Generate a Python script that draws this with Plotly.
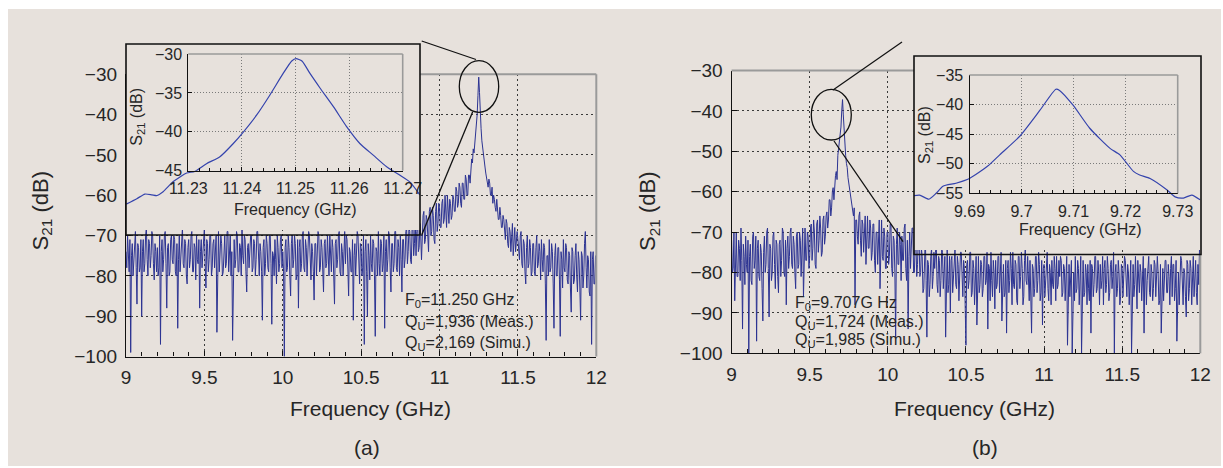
import numpy as np
import plotly.graph_objects as go

W, H = 1223, 468

# ---------------- data ----------------
freq_main = np.round(np.linspace(9.0, 12.0, 601), 3)

s21_a = [
    -74, -78, -70, -77, -79, -71, -99, -75, -72, -80, -76, -70, -69, -78, -87, -72, -73, -79, -78, -71,
    -90, -74, -71, -79, -77, -70, -68, -76, -80, -71, -72, -78, -75, -69, -70, -77, -81, -72, -74, -79,
    -73, -80, -78, -70, -97, -74, -71, -79, -76, -70, -69, -77, -88, -73, -72, -80, -79, -71, -70, -76,
    -77, -70, -71, -79, -80, -72, -93, -76, -70, -79, -75, -69, -68, -77, -78, -71, -72, -80, -82, -73,
    -71, -78, -76, -70, -69, -79, -79, -72, -73, -81, -70, -76, -77, -71, -88, -74, -71, -78, -74, -69,
    -68, -77, -83, -71, -72, -79, -76, -70, -70, -80, -78, -72, -71, -78, -74, -70, -94, -76, -69, -79,
    -75, -70, -72, -80, -79, -71, -70, -78, -77, -69, -69, -79, -73, -70, -80, -74, -96, -72, -71, -78,
    -76, -69, -70, -79, -79, -72, -73, -80, -68, -75, -77, -70, -71, -79, -84, -73, -72, -78, -75, -70,
    -70, -79, -78, -71, -72, -80, -76, -69, -69, -78, -80, -72, -74, -79, -91, -73, -71, -80, -77, -70,
    -72, -78, -79, -70, -70, -77, -92, -74, -75, -80, -71, -76, -82, -70, -73, -79, -77, -71, -70, -78,
    -74, -79, -100, -73, -71, -79, -78, -70, -73, -80, -85, -72, -70, -78, -76, -70, -72, -81, -80, -71,
    -88, -73, -71, -79, -77, -70, -69, -78, -79, -71, -73, -80, -75, -69, -70, -78, -81, -72, -74, -79,
    -86, -72, -72, -80, -76, -69, -70, -79, -78, -71, -73, -80, -84, -72, -71, -78, -77, -70, -75, -80,
    -70, -77, -79, -71, -73, -80, -87, -72, -71, -78, -76, -70, -69, -79, -80, -72, -74, -80, -72, -69,
    -77, -70, -71, -80, -85, -73, -74, -79, -79, -71, -91, -75, -72, -80, -76, -69, -70, -78, -82, -72,
    -73, -80, -78, -70, -97, -74, -71, -79, -90, -72, -75, -81, -70, -77, -79, -71, -72, -80, -95, -73,
    -74, -80, -69, -77, -80, -71, -72, -79, -77, -70, -93, -74, -71, -79, -76, -69, -70, -78, -84, -72,
    -72, -79, -77, -69, -69, -78, -79, -71, -73, -80, -70, -76, -84, -71, -71, -78, -76, -69, -68, -77,
    -74, -68, -69, -76, -77, -68, -67, -75, -72, -66, -75, -69, -66, -74, -73, -67, -70, -76, -68, -65,
    -64, -72, -71, -65, -66, -73, -74, -64, -63, -70, -69, -63, -65, -71, -72, -64, -62, -69, -67, -62,
    -63, -68, -68, -62, -61, -67, -66, -60, -64, -68, -60, -65, -67, -61, -62, -66, -65, -60, -61, -64,
    -64, -58, -59, -63, -62, -57, -58, -62, -63, -57, -57, -61, -61, -55, -56, -60, -60, -55, -55, -57,
    -54, -51, -52, -48.5, -49.5, -47, -45, -43, -40, -35.3, -30.7, -34.5, -40.5, -43.5, -46.5, -48.5, -50.5, -51.5, -53, -54.5,
    -55.5, -57, -58, -56, -57, -60, -60, -58, -62, -60, -61, -63, -64, -61, -63, -66, -66, -63, -65, -68,
    -68, -65, -66, -70, -71, -66, -67, -72, -73, -68, -69, -74, -70, -67, -75, -70, -68, -74, -72, -69,
    -71, -75, -76, -70, -69, -77, -78, -71, -72, -79, -82, -73, -70, -78, -77, -71, -73, -80, -79, -72,
    -72, -79, -80, -73, -70, -78, -77, -72, -74, -81, -71, -76, -79, -72, -73, -82, -96, -75, -75, -80,
    -71, -79, -78, -72, -74, -82, -93, -75, -72, -80, -80, -73, -73, -81, -95, -74, -76, -83, -71, -78,
    -79, -72, -73, -81, -82, -74, -75, -83, -89, -73, -74, -82, -81, -75, -72, -80, -84, -74, -76, -83,
    -91, -74, -75, -83, -80, -72, -69, -78, -83, -75, -76, -84, -85, -74, -97, -76, -74, -82, -82, -75,
    -78,
]

s21_b = [
    -72, -80, -79, -70, -87, -75, -70, -81, -81, -72, -74, -82, -69, -77, -94, -73, -76, -83, -71, -78,
    -80, -72, -101, -76, -73, -82, -83, -71, -70, -79, -77, -71, -97, -74, -72, -81, -82, -73, -75, -84,
    -92, -75, -71, -80, -78, -70, -69, -79, -91, -73, -74, -82, -80, -71, -70, -78, -84, -72, -73, -81,
    -85, -73, -72, -81, -77, -69, -70, -80, -81, -72, -88, -74, -71, -79, -76, -70, -69, -78, -79, -71,
    -73, -80, -84, -71, -70, -79, -78, -70, -72, -81, -75, -69, -86, -73, -69, -77, -77, -70, -71, -79,
    -76, -69, -68, -77, -74, -67, -70, -78, -79, -68, -67, -75, -72, -66, -69, -76, -75, -67, -66, -73,
    -71, -66, -65, -69, -67, -62, -62, -66, -64, -60, -59, -62, -58, -56, -55, -57, -51, -49, -47, -46,
    -44, -40, -37.2, -41, -45.5, -48.5, -51, -53, -54, -56.5, -58, -59, -60, -62, -63, -65, -66, -64, -88, -67,
    -67, -71, -73, -66, -65, -72, -76, -67, -68, -75, -70, -66, -78, -70, -66, -74, -74, -67, -69, -77,
    -75, -68, -68, -77, -80, -70, -70, -78, -73, -67, -84, -72, -67, -76, -77, -69, -71, -79, -79, -70,
    -70, -78, -76, -68, -68, -79, -81, -71, -72, -80, -96, -73, -69, -78, -78, -70, -73, -82, -71, -77,
    -77, -69, -68, -79, -82, -72, -94, -76, -70, -79, -75, -69, -69, -80, -80, -72, -73, -81, -78, -71,
    -72, -81, -80, -74, -76, -85, -84, -75, -71, -82, -96, -77, -78, -86, -83, -76, -74, -84, -81, -75,
    -79, -75, -73, -83, -85, -76, -77, -86, -82, -74, -75, -84, -80, -76, -96, -78, -74, -85, -83, -76,
    -90, -77, -76, -85, -81, -75, -74, -83, -84, -76, -78, -87, -80, -75, -75, -84, -86, -77, -79, -88,
    -98, -78, -77, -84, -82, -75, -75, -86, -85, -77, -79, -88, -81, -76, -93, -78, -76, -85, -83, -77,
    -78, -86, -84, -76, -76, -83, -82, -75, -94, -78, -79, -87, -75, -82, -86, -77, -80, -89, -77, -84,
    -83, -76, -76, -85, -80, -75, -92, -79, -78, -86, -85, -77, -95, -79, -77, -85, -82, -75, -79, -88,
    -75, -83, -84, -77, -78, -87, -88, -76, -76, -84, -81, -75, -79, -88, -86, -77, -74, -82, -83, -76,
    -80, -87, -77, -84, -95, -78, -79, -86, -84, -76, -76, -85, -82, -75, -78, -87, -85, -77, -93, -79,
    -78, -86, -82, -76, -75, -84, -87, -78, -80, -88, -77, -83, -84, -76, -79, -87, -76, -84, -83, -77,
    -81, -76, -77, -86, -85, -78, -79, -87, -83, -76, -98, -80, -78, -86, -82, -77, -100, -81, -80, -87,
    -76, -85, -84, -77, -79, -88, -82, -76, -100, -79, -77, -86, -85, -78, -80, -88, -78, -84, -87, -77,
    -95, -78, -79, -86, -83, -76, -76, -85, -84, -77, -80, -88, -78, -84, -82, -76, -88, -79, -77, -85,
    -83, -76, -79, -87, -85, -78, -77, -84, -81, -75, -100, -80, -78, -86, -84, -77, -80, -88, -86, -78,
    -79, -86, -82, -76, -77, -85, -86, -78, -80, -88, -84, -77, -100, -81, -78, -86, -83, -76, -81, -89,
    -77, -84, -85, -78, -80, -87, -83, -76, -95, -79, -79, -88, -82, -77, -76, -85, -86, -78, -80, -87,
    -84, -77, -78, -86, -82, -76, -80, -88, -87, -78, -95, -80, -79, -87, -83, -77, -77, -85, -85, -78,
    -81, -88, -79, -76, -86, -78, -78, -87, -84, -77, -97, -81, -80, -88, -83, -76, -77, -86, -88, -79,
    -80, -86, -91, -77, -78, -87, -84, -77, -79, -88, -82, -76, -86, -79, -77, -85, -88, -78, -83, -74,
    -72,
]

inset_a_freq = [11.2184, 11.2204, 11.2219, 11.2232, 11.2241, 11.2253, 11.2272,
                11.2297, 11.2312, 11.2334, 11.2359, 11.2384, 11.2403, 11.2428,
                11.2452, 11.2477, 11.2493, 11.2501, 11.2512, 11.2527, 11.2546,
                11.2571, 11.2595, 11.2620, 11.2645, 11.2670, 11.2695, 11.2714,
                11.2732]
inset_a_s21 = [-49.3, -48.6, -48.0, -48.1, -48.2, -47.7, -46.4,
               -45.3, -45.1, -44.1, -43.2, -41.5, -40.0, -37.8,
               -35.3, -32.5, -30.9, -30.6, -30.9, -32.5, -34.4,
               -36.8, -39.3, -41.5, -43.0, -44.5, -45.6, -46.5,
               -48.1]

inset_b_freq = [9.6793, 9.6804, 9.6822, 9.6836, 9.6849, 9.6874, 9.6900,
                9.6935, 9.6958, 9.6996, 9.7035, 9.7066, 9.7073, 9.7099,
                9.7131, 9.7170, 9.7189, 9.7215, 9.7227, 9.7247, 9.7279,
                9.7295, 9.7311, 9.7327, 9.7343]
inset_b_s21 = [-55.4, -55.3, -56.0, -55.0, -53.8, -53.3, -52.5,
               -50.4, -48.5, -45.4, -41.0, -37.4, -37.6, -40.1,
               -44.0, -47.4, -48.5, -51.3, -51.9, -52.5, -54.4,
               -55.6, -55.8, -55.3, -56.1]

main_xticks = [9, 9.5, 10, 10.5, 11, 11.5, 12]
main_xlabels = ["9", "9.5", "10", "10.5", "11", "11.5", "12"]
main_yticks = [-100, -90, -80, -70, -60, -50, -40, -30]
main_ylabels = ["\u2212100", "\u221290", "\u221280", "\u221270", "\u221260", "\u221250", "\u221240", "\u221230"]

ins_a_xticks = [11.23, 11.24, 11.25, 11.26, 11.27]
ins_a_xlabels = ["11.23", "11.24", "11.25", "11.26", "11.27"]
ins_a_yticks = [-45, -40, -35, -30]
ins_a_ylabels = ["\u221245", "\u221240", "\u221235", "\u221230"]

ins_b_xticks = [9.69, 9.70, 9.71, 9.72, 9.73]
ins_b_xlabels = ["9.69", "9.7", "9.71", "9.72", "9.73"]
ins_b_yticks = [-55, -50, -45, -40, -35]
ins_b_ylabels = ["\u221255", "\u221250", "\u221245", "\u221240", "\u221235"]

# ---------------- geometry (pixels) ----------------
def fx(p):
    return p / W

def fy(p):
    return 1 - p / H

A_X, A_Y = (126.0, 596.3), (74.3, 356.5)
B_X, B_Y = (731.6, 1200.3), (70.5, 353.3)
OA_X, OA_Y, OA_BORDER = (126.0, 420.0), (44.0, 230.0), 235.0
IA_X, IA_Y = (188.3, 402.7), (54.0, 170.7)
OB_X, OB_Y, OB_BORDER = (914.0, 1201.0), (56.0, 250.0), 254.5
IB_X, IB_Y = (969.5, 1177.7), (75.0, 193.3)


def ext_x(inner_px, inner_rng, outer_px):
    s = (inner_rng[1] - inner_rng[0]) / (inner_px[1] - inner_px[0])
    return [inner_rng[0] + (outer_px[0] - inner_px[0]) * s,
            inner_rng[0] + (outer_px[1] - inner_px[0]) * s]


def ext_y(inner_px, inner_rng, outer_px):
    s = (inner_rng[1] - inner_rng[0]) / (inner_px[1] - inner_px[0])
    top_val = inner_rng[1]
    return [top_val - (outer_px[1] - inner_px[0]) * s,
            top_val - (outer_px[0] - inner_px[0]) * s]


FONT = "Liberation Sans, Arial, Helvetica, sans-serif"
TXT = "#262626"
BLUE = "#2c3392"
IBLUE = "#3443ad"
BG = "#e7e1dc"

fig = go.Figure()
fig.add_trace(go.Scatter(x=freq_main, y=s21_a, mode="lines", line=dict(color=BLUE, width=1),
                         xaxis="x", yaxis="y", hoverinfo="skip"))
fig.add_trace(go.Scatter(x=freq_main, y=s21_b, mode="lines", line=dict(color=BLUE, width=1),
                         xaxis="x2", yaxis="y2", hoverinfo="skip"))
for xa, ya, fq, sv in [("x3", "y3", inset_a_freq, inset_a_s21), ("x4", "y4", inset_a_freq, inset_a_s21),
                       ("x5", "y5", inset_b_freq, inset_b_s21), ("x6", "y6", inset_b_freq, inset_b_s21)]:
    fig.add_trace(go.Scatter(x=fq, y=sv, mode="lines",
                             line=dict(color=IBLUE, width=1.2, shape="spline", smoothing=0.6),
                             xaxis=xa, yaxis=ya, hoverinfo="skip"))


def main_x(dom, anchor):
    return dict(domain=[fx(dom[0]), fx(dom[1])], anchor=anchor, range=[9, 12], automargin=False,
                tickmode="array", tickvals=main_xticks, ticktext=main_xlabels,
                ticks="inside", ticklen=5, tickwidth=1, tickcolor="#111",
                showline=True, linecolor="#111", linewidth=1.3,
                showgrid=True, gridcolor="#3a3a3a", gridwidth=1, griddash="2px,3px",
                zeroline=False,
                minor=dict(tickmode="array", tickvals=[round(9 + 0.1 * k, 1) for k in range(31)],
                           ticks="inside", ticklen=4, tickwidth=1, tickcolor="#111", showgrid=False),
                tickfont=dict(family=FONT, size=19, color=TXT), ticklabelstandoff=4,
                fixedrange=True)


def main_y(dom, anchor):
    return dict(domain=[fy(dom[1]), fy(dom[0])], anchor=anchor, range=[-100, -30], automargin=False,
                tickmode="array", tickvals=main_yticks, ticktext=main_ylabels,
                ticks="inside", ticklen=5, tickwidth=1, tickcolor="#111",
                showline=True, linecolor="#111", linewidth=1.3,
                showgrid=True, gridcolor="#3a3a3a", gridwidth=1, griddash="2px,3px",
                zeroline=False,
                tickfont=dict(family=FONT, size=19, color=TXT), ticklabelstandoff=4,
                fixedrange=True)


def inner_x(dom, anchor, rng, tv, tt):
    return dict(domain=[fx(dom[0]), fx(dom[1])], anchor=anchor, range=rng, automargin=False,
                tickmode="array", tickvals=tv, ticktext=tt,
                ticks="inside", ticklen=4, tickwidth=1, tickcolor="#111",
                showline=True, linecolor="#111", linewidth=1.1,
                showgrid=True, gridcolor="#7a7a7a", gridwidth=1, griddash="1px,2px",
                zeroline=False,
                minor=dict(tickmode="array",
                           tickvals=[round(rng[0] + 0.002 * k, 3) for k in range(21)],
                           ticks="inside", ticklen=3, tickwidth=1, tickcolor="#111", showgrid=False),
                tickfont=dict(family=FONT, size=16, color=TXT), ticklabelstandoff=3,
                fixedrange=True)


def inner_y(dom, anchor, rng, tv, tt):
    return dict(domain=[fy(dom[1]), fy(dom[0])], anchor=anchor, range=rng, automargin=False,
                tickmode="array", tickvals=tv, ticktext=tt,
                ticks="inside", ticklen=4, tickwidth=1, tickcolor="#111",
                showline=True, linecolor="#111", linewidth=1.1,
                showgrid=True, gridcolor="#7a7a7a", gridwidth=1, griddash="1px,2px",
                zeroline=False,
                tickfont=dict(family=FONT, size=16, color=TXT), ticklabelstandoff=2,
                fixedrange=True)


def hidden(dom, anchor, rng, is_x):
    d = [fx(dom[0]), fx(dom[1])] if is_x else [fy(dom[1]), fy(dom[0])]
    return dict(domain=d, anchor=anchor, range=rng, visible=False, automargin=False,
                fixedrange=True)


ia_xr, ia_yr = [11.23, 11.27], [-45, -30]
ib_xr, ib_yr = [9.69, 9.73], [-55, -35]

fig.update_layout(
    width=W, height=H, margin=dict(l=0, r=0, t=0, b=0, pad=0, autoexpand=False),
    paper_bgcolor="white", plot_bgcolor=BG, showlegend=False,
    font=dict(family=FONT, color=TXT),
    xaxis=main_x(A_X, "y"), yaxis=main_y(A_Y, "x"),
    xaxis2=main_x(B_X, "y2"), yaxis2=main_y(B_Y, "x2"),
    xaxis3=hidden(OA_X, "y3", ext_x(IA_X, ia_xr, OA_X), True),
    yaxis3=hidden(OA_Y, "x3", ext_y(IA_Y, ia_yr, OA_Y), False),
    xaxis4=inner_x(IA_X, "y4", ia_xr, ins_a_xticks, ins_a_xlabels),
    yaxis4=inner_y(IA_Y, "x4", ia_yr, ins_a_yticks, ins_a_ylabels),
    xaxis5=hidden(OB_X, "y5", ext_x(IB_X, ib_xr, OB_X), True),
    yaxis5=hidden(OB_Y, "x5", ext_y(IB_Y, ib_yr, OB_Y), False),
    xaxis6=inner_x(IB_X, "y6", ib_xr, ins_b_xticks, ins_b_xlabels),
    yaxis6=inner_y(IB_Y, "x6", ib_yr, ins_b_yticks, ins_b_ylabels),
)

shapes = []
shapes.append(dict(type="rect", xref="paper", yref="paper", x0=fx(8), x1=fx(1221), y0=fy(466), y1=fy(9),
                   fillcolor=BG, line=dict(width=0), layer="below"))


def pline(x0, y0, x1, y1, color, width):
    return dict(type="line", xref="paper", yref="paper", x0=fx(x0), y0=fy(y0), x1=fx(x1), y1=fy(y1),
                line=dict(color=color, width=width), layer="above")


GRAY = "#9a9a9a"
shapes.append(pline(OA_X[1], A_Y[0], A_X[1], A_Y[0], GRAY, 2))
shapes.append(pline(A_X[1], A_Y[0], A_X[1], A_Y[1], GRAY, 2))
shapes.append(pline(B_X[0], B_Y[0], OB_X[0], B_Y[0], GRAY, 2))
shapes.append(pline(B_X[1], OB_BORDER, B_X[1], B_Y[1], GRAY, 2))
shapes.append(pline(IA_X[0], IA_Y[0], IA_X[1], IA_Y[0], GRAY, 1.6))
shapes.append(pline(IA_X[1], IA_Y[0], IA_X[1], IA_Y[1], GRAY, 1.6))
shapes.append(pline(IB_X[0], IB_Y[0], IB_X[1], IB_Y[0], GRAY, 1.6))
shapes.append(pline(IB_X[1], IB_Y[0], IB_X[1], IB_Y[1], GRAY, 1.6))
for (ox, oy, ob) in [(OA_X, OA_Y, OA_BORDER), (OB_X, OB_Y, OB_BORDER)]:
    shapes.append(dict(type="rect", xref="paper", yref="paper", x0=fx(ox[0]), x1=fx(ox[1]),
                       y0=fy(ob), y1=fy(oy[0]), line=dict(color="#111", width=1.6), layer="above"))
shapes.append(dict(type="circle", xref="paper", yref="paper", x0=fx(459.3), x1=fx(498.7),
                   y0=fy(112.3), y1=fy(60.7), line=dict(color="#111", width=1.3), layer="above"))
shapes.append(pline(421.7, 41.0, 476.0, 59.5, "#111", 1.3))
shapes.append(pline(472.7, 111.7, 421.7, 235.0, "#111", 1.3))
shapes.append(dict(type="circle", xref="paper", yref="paper", x0=fx(811.3), x1=fx(851.3),
                   y0=fy(140.0), y1=fy(89.3), line=dict(color="#111", width=1.3), layer="above"))
shapes.append(pline(833.0, 90.0, 902.0, 42.0, "#111", 1.3))
shapes.append(pline(834.0, 141.0, 903.0, 241.7, "#111", 1.3))

annotations = []


def ann(text, x, y, size, xanchor="center", yanchor="middle", angle=0):
    annotations.append(dict(text=text, xref="paper", yref="paper", x=fx(x), y=fy(y),
                            xanchor=xanchor, yanchor=yanchor, showarrow=False, textangle=angle,
                            font=dict(family=FONT, size=size, color=TXT)))


ann("Frequency (GHz)", 370.7, 408, 21)
ann("Frequency (GHz)", 974.0, 408, 21)
ann("S<sub>21</sub> (dB)", 41.5, 211, 22, angle=-90)
ann("S<sub>21</sub> (dB)", 649.0, 211, 22, angle=-90)
ann("(a)", 367, 447, 21)
ann("(b)", 985, 447, 21)
ann("Frequency (GHz)", 295.5, 210, 16)
ann("Frequency (GHz)", 1080.7, 229.7, 16)
ann("S<sub>21</sub> (dB)", 136.7, 117, 16, angle=-90)
ann("S<sub>21</sub> (dB)", 925.5, 135.5, 16, angle=-90)
ann("F<sub>0</sub>=11.250 GHz", 402.7, 300.7, 16, xanchor="left")
ann("Q<sub>U</sub>=1,936 (Meas.)", 402.7, 322.7, 16, xanchor="left")
ann("Q<sub>U</sub>=2,169 (Simu.)", 402.7, 343.5, 16, xanchor="left")
ann("F<sub>0</sub>=9.707G Hz", 792.7, 303.5, 16, xanchor="left")
ann("Q<sub>U</sub>=1,724 (Meas.)", 792.7, 322.0, 16, xanchor="left")
ann("Q<sub>U</sub>=1,985 (Simu.)", 792.7, 340.5, 16, xanchor="left")

fig.update_layout(shapes=shapes, annotations=annotations)
fig.write_html("out.html")
